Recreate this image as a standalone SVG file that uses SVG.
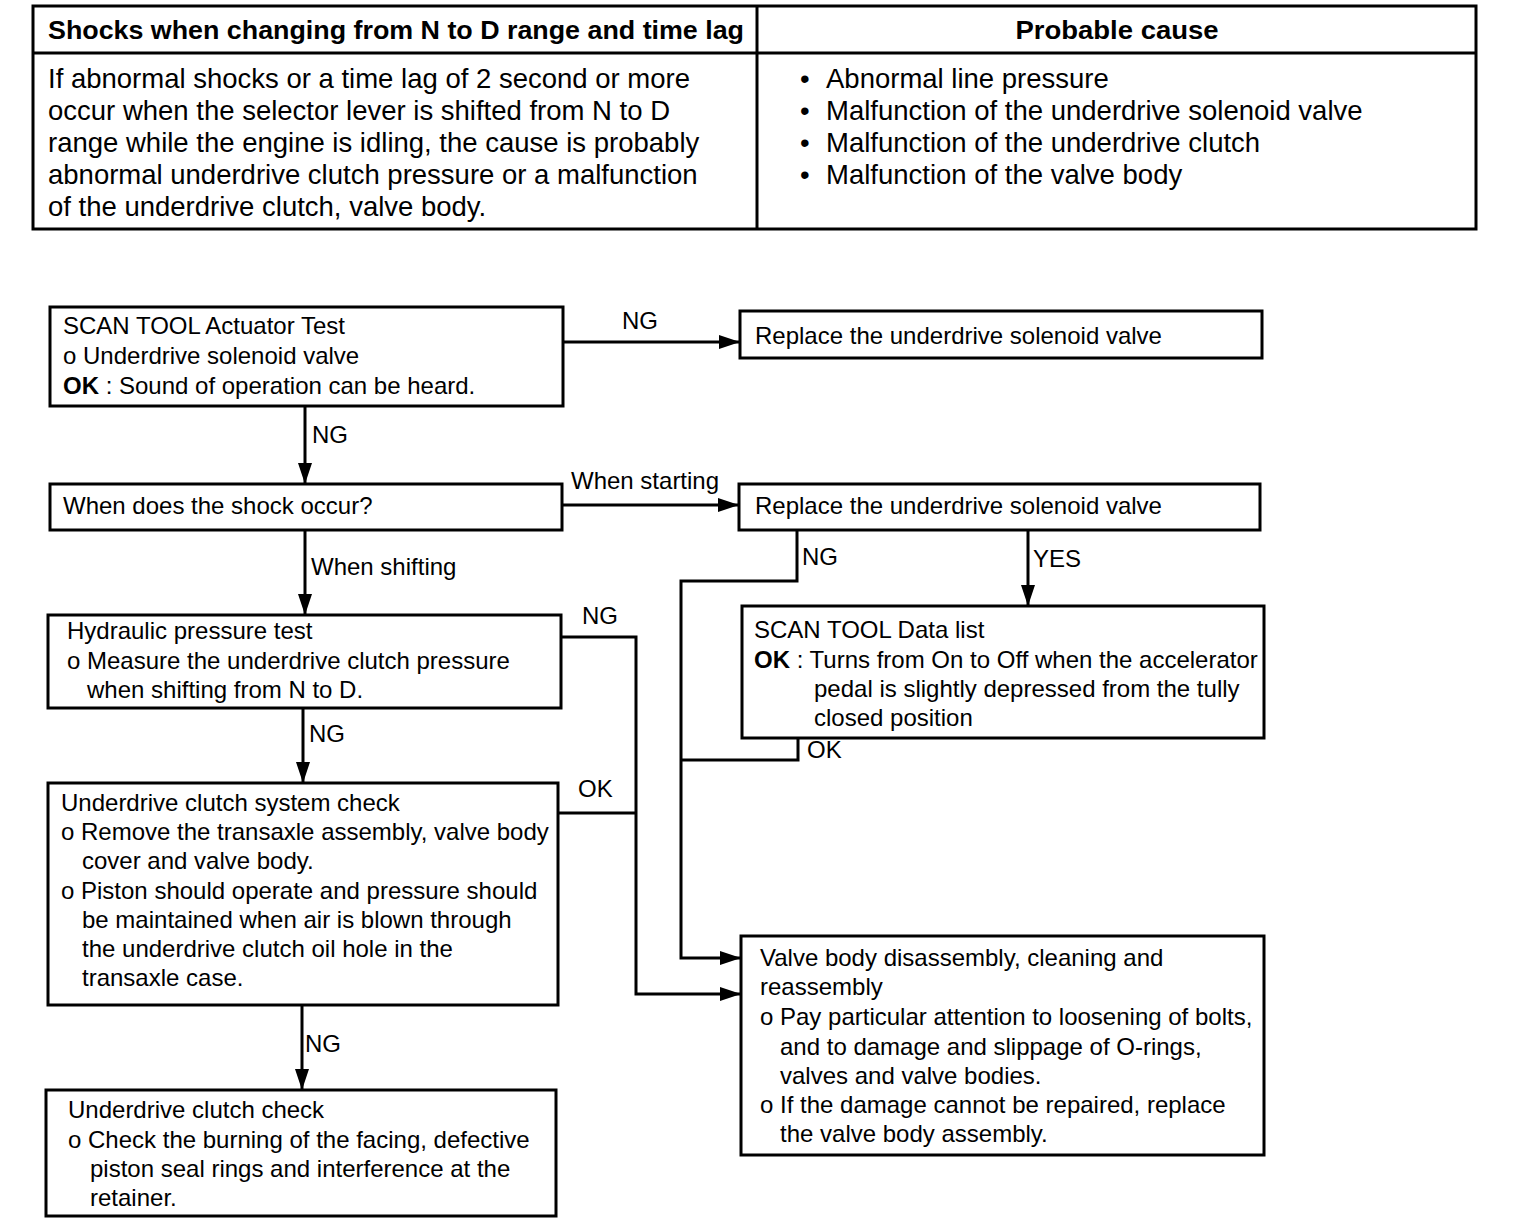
<svg xmlns="http://www.w3.org/2000/svg" width="1536" height="1230" viewBox="0 0 1536 1230">
<defs>
<marker id="arr" markerUnits="userSpaceOnUse" markerWidth="22" markerHeight="14" refX="21" refY="7" orient="auto">
<path d="M0,0 L21,7 L0,14 Z" fill="#000"/>
</marker>
<style>
.t{font-family:"Liberation Sans",Arial,Helvetica,sans-serif;font-size:24px;fill:#000}
.tb{font-family:"Liberation Sans",Arial,Helvetica,sans-serif;font-size:27.5px;fill:#000}
.h{font-family:"Liberation Sans",Arial,Helvetica,sans-serif;font-size:25px;font-weight:bold;fill:#000}
.b{font-weight:bold}
.box{fill:#fff;stroke:#000;stroke-width:3}
.ln{fill:none;stroke:#000;stroke-width:3}
.ar{fill:none;stroke:#000;stroke-width:3;marker-end:url(#arr)}
</style>
</defs>
<rect width="1536" height="1230" fill="#fff"/>

<g id="table">
<rect x="33" y="6" width="1443" height="223" class="box"/>
<line x1="33" y1="53" x2="1476" y2="53" class="ln" stroke-width="2"/>
<line x1="757" y1="6" x2="757" y2="229" class="ln" stroke-width="2"/>
<text x="396" y="39" class="h" text-anchor="middle" textLength="696" lengthAdjust="spacingAndGlyphs">Shocks when changing from N to D range and time lag</text>
<text x="1117" y="39" class="h" text-anchor="middle" textLength="203" lengthAdjust="spacingAndGlyphs">Probable cause</text>
<text class="tb" x="48" y="88">If abnormal shocks or a time lag of 2 second or more</text>
<text class="tb" x="48" y="120">occur when the selector lever is shifted from N to D</text>
<text class="tb" x="48" y="152">range while the engine is idling, the cause is probably</text>
<text class="tb" x="48" y="184">abnormal underdrive clutch pressure or a malfunction</text>
<text class="tb" x="48" y="216">of the underdrive clutch, valve body.</text>
<text class="tb" x="800" y="88">•</text><text class="tb" x="826" y="88">Abnormal line pressure</text>
<text class="tb" x="800" y="120">•</text><text class="tb" x="826" y="120">Malfunction of the underdrive solenoid valve</text>
<text class="tb" x="800" y="152">•</text><text class="tb" x="826" y="152">Malfunction of the underdrive clutch</text>
<text class="tb" x="800" y="184">•</text><text class="tb" x="826" y="184">Malfunction of the valve body</text>
</g>

<g id="connectors">
<line x1="563" y1="342" x2="740" y2="342" class="ar"/>
<text class="t" x="622" y="329">NG</text>
<line x1="305" y1="406" x2="305" y2="484" class="ar"/>
<text class="t" x="312" y="443">NG</text>
<line x1="562" y1="505" x2="739" y2="505" class="ar"/>
<text class="t" x="571" y="489">When starting</text>
<line x1="305" y1="530" x2="305" y2="615" class="ar"/>
<text class="t" x="311" y="575">When shifting</text>
<line x1="303" y1="708" x2="303" y2="783" class="ar"/>
<text class="t" x="309" y="742">NG</text>
<line x1="302" y1="1005" x2="302" y2="1090" class="ar"/>
<text class="t" x="305" y="1052">NG</text>
<polyline points="561,637 636,637 636,994 741,994" class="ar"/>
<text class="t" x="582" y="624">NG</text>
<polyline points="558,813 636,813" class="ln"/>
<text class="t" x="578" y="797">OK</text>
<polyline points="797,530 797,581 681,581 681,958 741,958" class="ar"/>
<text class="t" x="802" y="565">NG</text>
<line x1="1028" y1="530" x2="1028" y2="606" class="ar"/>
<text class="t" x="1033" y="567">YES</text>
<polyline points="798,738 798,760 681,760" class="ln"/>
<text class="t" x="807" y="758">OK</text>
</g>

<g id="n1">
<rect x="50" y="307" width="513" height="99" class="box"/>
<text class="t" x="63" y="334">SCAN TOOL Actuator Test</text>
<text class="t" x="63" y="364">o Underdrive solenoid valve</text>
<text class="t" x="63" y="394"><tspan class="b">OK</tspan> : Sound of operation can be heard.</text>
</g>
<g id="n2">
<rect x="740" y="311" width="522" height="47" class="box"/>
<text class="t" x="755" y="344">Replace the underdrive solenoid valve</text>
</g>
<g id="n3">
<rect x="50" y="484" width="512" height="46" class="box"/>
<text class="t" x="63" y="514">When does the shock occur?</text>
</g>
<g id="n4">
<rect x="739" y="484" width="521" height="46" class="box"/>
<text class="t" x="755" y="514">Replace the underdrive solenoid valve</text>
</g>
<g id="n5">
<rect x="48" y="615" width="513" height="93" class="box"/>
<text class="t" x="67" y="639">Hydraulic pressure test</text>
<text class="t" x="67" y="669">o Measure the underdrive clutch pressure</text>
<text class="t" x="87" y="698">when shifting from N to D.</text>
</g>
<g id="n6">
<rect x="742" y="606" width="522" height="132" class="box"/>
<text class="t" x="754" y="638">SCAN TOOL Data list</text>
<text class="t" x="754" y="668"><tspan class="b">OK</tspan> : Turns from On to Off when the accelerator</text>
<text class="t" x="814" y="697">pedal is slightly depressed from the tully</text>
<text class="t" x="814" y="726">closed position</text>
</g>
<g id="n7">
<rect x="48" y="783" width="510" height="222" class="box"/>
<text class="t" x="61" y="811">Underdrive clutch system check</text>
<text class="t" x="61" y="840">o Remove the transaxle assembly, valve body</text>
<text class="t" x="82" y="869">cover and valve body.</text>
<text class="t" x="61" y="899">o Piston should operate and pressure should</text>
<text class="t" x="82" y="928">be maintained when air is blown through</text>
<text class="t" x="82" y="957">the underdrive clutch oil hole in the</text>
<text class="t" x="82" y="986">transaxle case.</text>
</g>
<g id="n8">
<rect x="46" y="1090" width="510" height="126" class="box"/>
<text class="t" x="68" y="1118">Underdrive clutch check</text>
<text class="t" x="68" y="1148">o Check the burning of the facing, defective</text>
<text class="t" x="90" y="1177">piston seal rings and interference at the</text>
<text class="t" x="90" y="1206">retainer.</text>
</g>
<g id="n9">
<rect x="741" y="936" width="523" height="219" class="box"/>
<text class="t" x="760" y="966">Valve body disassembly, cleaning and</text>
<text class="t" x="760" y="995">reassembly</text>
<text class="t" x="760" y="1025">o Pay particular attention to loosening of bolts,</text>
<text class="t" x="780" y="1055">and to damage and slippage of O-rings,</text>
<text class="t" x="780" y="1084">valves and valve bodies.</text>
<text class="t" x="760" y="1113">o If the damage cannot be repaired, replace</text>
<text class="t" x="780" y="1142">the valve body assembly.</text>
</g>
</svg>
